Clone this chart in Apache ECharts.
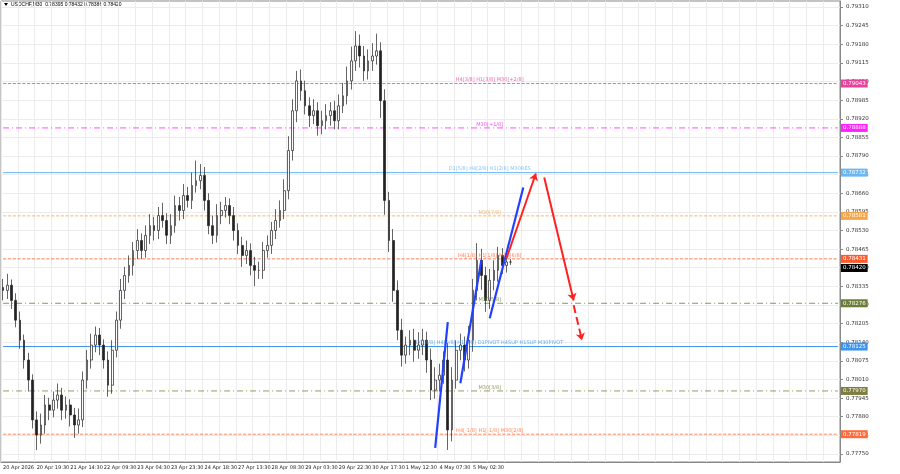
<!DOCTYPE html>
<html>
<head>
<meta charset="utf-8">
<script src="https://cdn.jsdelivr.net/npm/echarts@6/dist/echarts.min.js"></script>
<style>html,body{margin:0;padding:0;background:#fff}#c{width:900px;height:474px}</style>
</head>
<body>
<div id="c"></div>
<script>
// M30 closes, grouped (~4.75 bars per candle)
const closes = [
  0.78321, 0.78339, 0.78286, 0.78217, 0.78147, 0.78078, 0.78008, 0.77869, 0.77816, 0.77851,
  0.77921, 0.77903, 0.77938, 0.77956, 0.77903, 0.77921, 0.77886, 0.77851, 0.77869, 0.78008,
  0.78078, 0.78130, 0.78165, 0.78130, 0.78078, 0.77990, 0.78112, 0.78217, 0.78321, 0.78373,
  0.78408, 0.78460, 0.78495, 0.78460, 0.78513, 0.78547, 0.78530, 0.78582, 0.78565, 0.78513,
  0.78547, 0.78617, 0.78600, 0.78652, 0.78635, 0.78687, 0.78704, 0.78722, 0.78635, 0.78547,
  0.78513, 0.78582, 0.78600, 0.78617, 0.78582, 0.78530, 0.78478, 0.78443, 0.78460, 0.78408,
  0.78391, 0.78391, 0.78460, 0.78478, 0.78530, 0.78565, 0.78600, 0.78669, 0.78809, 0.78948,
  0.79052, 0.79018, 0.78965, 0.78931, 0.78948, 0.78896, 0.78913, 0.78931, 0.78948, 0.78913,
  0.78965, 0.79000, 0.79052, 0.79122, 0.79174, 0.79139, 0.79087, 0.79122, 0.79139, 0.79157,
  0.78983, 0.78635, 0.78495, 0.78321, 0.78182, 0.78095, 0.78130, 0.78147, 0.78112, 0.78130,
  0.78147, 0.78078, 0.77973, 0.78008, 0.78025, 0.78078, 0.77834, 0.78008, 0.78112, 0.78130,
  0.78078, 0.78147, 0.78321, 0.78426, 0.78373, 0.78286, 0.78356, 0.78391, 0.78443, 0.78408,
  0.78420, 0.78420
];
// wick extensions in 1e-5 price units
const wickUp = [
  30, 40, 20, 25, 30, 20, 25, 20, 30, 40, 35, 25, 30, 40, 25, 30, 20, 25, 40, 30,
  35, 40, 30, 25, 20, 30, 35, 30, 40, 30, 35, 30, 40, 25, 35, 40, 30, 30, 45, 25,
  40, 35, 30, 40, 30, 45, 70, 40, 30, 25, 35, 40, 30, 30, 25, 30, 25, 30, 35, 25,
  30, 30, 30, 35, 30, 40, 35, 40, 50, 40, 35, 40, 35, 30, 40, 30, 35, 40, 30, 35,
  40, 45, 50, 50, 52, 40, 35, 40, 45, 60, 30, 40, 30, 40, 35, 40, 30, 35, 40, 45,
  40, 30, 40, 45, 40, 30, 60, 45, 35, 40, 30, 50, 40, 60, 40, 30, 40, 35, 30, 25,
  20, 10
];
const wickDn = [
  35, 30, 30, 25, 30, 30, 40, 30, 52, 30, 30, 35, 25, 30, 35, 30, 40, 45, 30, 25,
  30, 30, 25, 35, 30, 40, 30, 25, 30, 30, 25, 35, 30, 30, 25, 30, 35, 30, 25, 30,
  30, 25, 35, 30, 25, 30, 25, 30, 35, 30, 30, 25, 30, 25, 30, 35, 30, 40, 30, 35,
  55, 30, 30, 25, 30, 30, 25, 30, 30, 35, 40, 35, 30, 40, 30, 35, 30, 30, 35, 30,
  30, 25, 30, 30, 35, 40, 35, 30, 35, 30, 60, 50, 40, 40, 35, 40, 30, 35, 40, 30,
  35, 45, 35, 30, 40, 30, 70, 40, 30, 35, 40, 30, 40, 35, 50, 40, 30, 35, 40, 30,
  25, 10
];
const totalSlots = 200;
const xLabels = ['20 Apr 2026', '20 Apr 19:30', '21 Apr 14:30', '22 Apr 09:30', '23 Apr 04:30',
  '23 Apr 23:30', '24 Apr 18:30', '27 Apr 13:30', '28 Apr 08:30', '29 Apr 03:30', '29 Apr 22:30',
  '30 Apr 17:30', '1 May 12:30', '4 May 07:30', '5 May 02:30'];
const yTicks = [0.77750, 0.77815, 0.77880, 0.77945, 0.78010, 0.78075, 0.78140, 0.78205, 0.78270,
  0.78335, 0.78400, 0.78465, 0.78530, 0.78595, 0.78660, 0.78725, 0.78790, 0.78855, 0.78920,
  0.78985, 0.79050, 0.79115, 0.79180, 0.79245, 0.79310];

const levelValues = [0.79043, 0.78888, 0.78732, 0.78581, 0.78431, 0.78276, 0.78125, 0.77970, 0.77819];
const levelTexts = ['H4[3/8] H1[3/8] M30[+2/8]', 'M30[+1/8]', 'D1[5/8] H4[2/8] H1[2/8] M30RES', 'M30[7/8]',
  'H4[1/8] H1[1/8] M30[6/8]', 'M30[5/8]', 'D1[4/8] H4[0/8] H1[0/8] D1PIVOT H4SUP H1SUP M30PIVOT',
  'M30[3/8]', 'H4[-1/8] H1[-1/8] M30[2/8]'];
const levelColors = ['#e6449c', '#ff22ff', '#6cb6f2', '#f7a54a', '#ff5a2a', '#6b7d3a', '#3d93f0', '#7d7d3e', '#ff6a3a'];
const levelTypes = ['dashed', [6, 3, 1, 3], 'solid', 'dashed', 'dashed', [6, 3, 1, 3], 'solid', [6, 3, 1, 3], 'dashed'];
const lastPrice = 0.78420;

// projection strokes: [x0, y0, x1, y1]
const blueStrokes = [[102.9, 0.77771, 106.0, 0.78210], [109.1, 0.77997, 113.6, 0.78426], [116.0, 0.78224, 124.3, 0.78680]];
const redArrows = [[120.0, 0.78433, 127.4, 0.78729], [128.6, 0.78715, 135.8, 0.78286]];
const redDashed = [[135.8, 0.78269, 137.9, 0.78147]];

const cats = [];
for (let i = 0; i < totalSlots; i += 1) cats.push(String(i));
const ohlc = closes.map((c, i) => {
  const o = i === 0 ? c + 0.0001 : closes[i - 1];
  const hi = Math.max(o, c) + wickUp[i] / 100000;
  const lo = Math.min(o, c) - wickDn[i] / 100000;
  return [o, c, lo, hi];
});

const tagLabel = (bg, txt, dy) => ({
  show: true, formatter: txt, fontSize: 5.5, color: '#fff', backgroundColor: bg,
  padding: [1, 2], distance: 3, offset: [0, dy || 0],
});

const levelSeries = levelValues.map((v, i) => ({
  type: 'line',
  silent: true,
  symbol: 'none',
  z: 1,
  data: [[cats[0], v], [cats[totalSlots - 1], v]],
  lineStyle: { color: levelColors[i], type: levelTypes[i], width: i === 2 || i === 6 ? 1 : 0.8 },
  endLabel: tagLabel(levelColors[i], v.toFixed(5)),
}));
levelSeries.push({
  type: 'line', silent: true, symbol: 'none', z: 1,
  data: [[cats[0], lastPrice], [cats[totalSlots - 1], lastPrice]],
  lineStyle: { opacity: 0 },
  endLabel: tagLabel('#000', lastPrice.toFixed(5), 6),
});

const chart = echarts.init(document.getElementById('c'));
const option = {
  animation: false,
  textStyle: { fontFamily: 'DejaVu Sans' },
  grid: { left: 1, right: 60, top: 1, bottom: 12, show: true, borderColor: '#888', borderWidth: 1 },
  graphic: [
    { type: 'polygon', shape: { points: [[4, 3], [8, 3], [6, 6]] }, style: { fill: '#000' } },
    { type: 'text', left: 11, top: 2, style: { text: 'USDCHF,M30  0.78395 0.78432 0.78386 0.78420', fontSize: 5, fill: '#000' } },
  ],
  xAxis: {
    type: 'category',
    data: cats,
    boundaryGap: true,
    axisLine: { lineStyle: { color: '#888' } },
    axisTick: { show: false },
    splitLine: { show: true, interval: 3, lineStyle: { color: '#ececec' } },
    axisLabel: {
      interval: 7, margin: 3, fontSize: 5, color: '#222', align: 'left', hideOverlap: false, showMinLabel: true,
      formatter: (v, i) => xLabels[i / 8] || '',
    },
  },
  yAxis: {
    type: 'value',
    position: 'right',
    min: 0.77722,
    max: 0.79331,
    axisLine: { show: true, lineStyle: { color: '#888' } },
    axisTick: { show: true, customValues: yTicks, length: 3, lineStyle: { color: '#888' } },
    splitLine: { show: true, lineStyle: { color: '#ececec' } },
    axisLabel: { customValues: yTicks, fontSize: 5.5, color: '#333', margin: 6, formatter: (v) => v.toFixed(5) },
  },
  series: [
    {
      type: 'candlestick',
      data: ohlc,
      barWidth: 2.2,
      z: 3,
      itemStyle: { color: '#fff', color0: '#222', borderColor: '#222', borderColor0: '#222', borderWidth: 0.7 },
    },
    {
      type: 'scatter',
      symbolSize: 0,
      silent: true,
      z: 4,
      data: levelValues.map((v, i) => ({
        value: [cats[116], v],
        label: { show: true, position: 'top', distance: 1, formatter: levelTexts[i], fontSize: 5, color: levelColors[i] },
      })),
    },
    {
      type: 'lines',
      coordinateSystem: 'cartesian2d',
      silent: true,
      z: 5,
      lineStyle: { color: '#2340ff', width: 2.2, opacity: 1 },
      data: blueStrokes.map((s) => ({ coords: [[s[0], s[1]], [s[2], s[3]]] })),
    },
    {
      type: 'lines',
      coordinateSystem: 'cartesian2d',
      silent: true,
      z: 5,
      symbol: ['none', 'arrow'],
      symbolSize: 7,
      lineStyle: { color: '#ff2020', width: 2, opacity: 1 },
      data: redArrows.map((s) => ({ coords: [[s[0], s[1]], [s[2], s[3]]] })),
    },
    {
      type: 'lines',
      coordinateSystem: 'cartesian2d',
      silent: true,
      z: 5,
      symbol: ['none', 'arrow'],
      symbolSize: 7,
      lineStyle: { color: '#ff2020', width: 2, type: 'dashed', opacity: 1 },
      data: redDashed.map((s) => ({ coords: [[s[0], s[1]], [s[2], s[3]]] })),
    },
  ].concat(levelSeries),
};
chart.setOption(option);
</script>
</body>
</html>
